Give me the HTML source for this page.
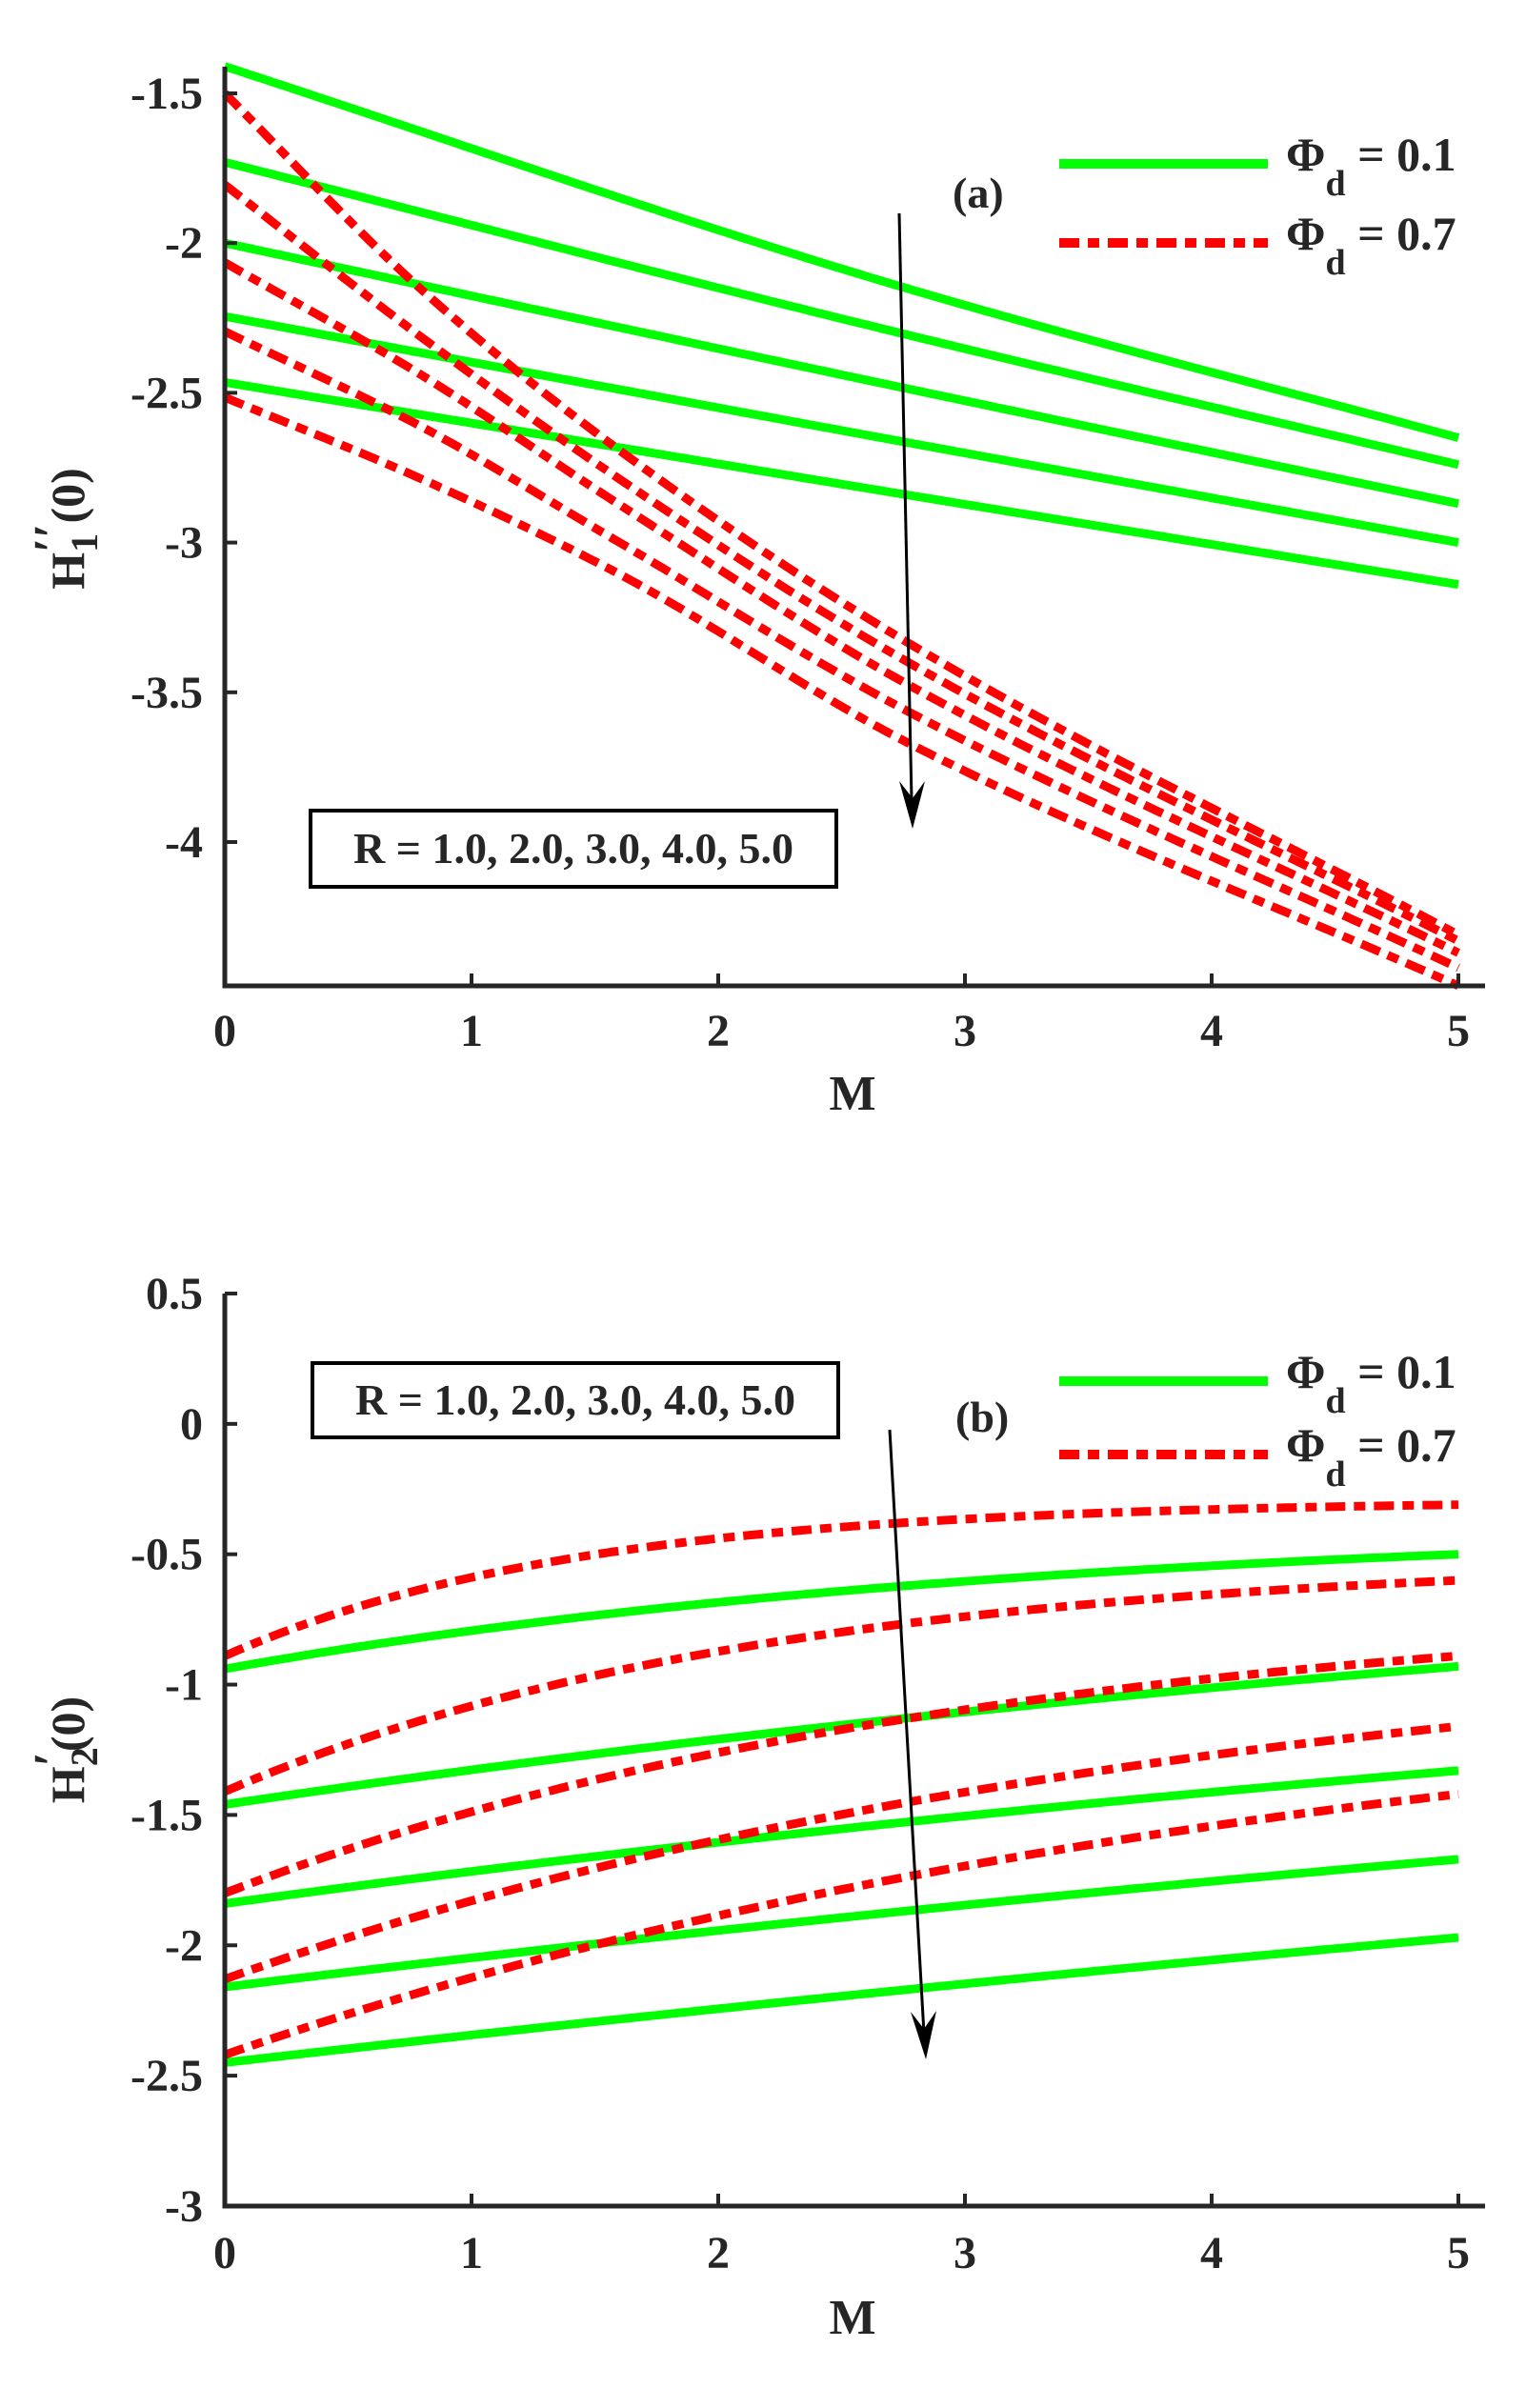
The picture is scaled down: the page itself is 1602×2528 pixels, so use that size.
<!DOCTYPE html>
<html><head><meta charset="utf-8"><style>
html,body{margin:0;padding:0;background:#fff;}
svg text{font-family:"Liberation Serif",serif;font-weight:bold;fill:#262626;}
</style></head><body>
<svg id="s" width="1602" height="2523" viewBox="0 0 1602 2523" xmlns="http://www.w3.org/2000/svg">
<rect width="1602" height="2523" fill="#fff"/>
<g id="p1"></g><g id="p2"></g>
<g stroke="#262626" stroke-width="5" fill="none">
<polyline points="236,70 236,1035 1559,1035"/>
<polyline points="236,1358 236,2316 1559,2316"/>
</g>
<g id="ticks" stroke="#262626" stroke-width="4"></g>
<g font-size="48" text-anchor="end" id="ylab"></g>
<g font-size="48" text-anchor="middle" id="xlab"></g>
<text x="895" y="1165" font-size="52" text-anchor="middle">M</text>
<text x="895" y="2450" font-size="52" text-anchor="middle">M</text>
<text transform="translate(88,555) rotate(-90)" font-size="50" text-anchor="middle">H<tspan dy="14" font-size="40">1</tspan><tspan dy="-30" dx="-20" font-size="54">′′</tspan><tspan dy="16">(0)</tspan></text>
<text transform="translate(88,1837) rotate(-90)" font-size="50" text-anchor="middle">H<tspan dy="14" font-size="40">2</tspan><tspan dy="-30" dx="-20" font-size="54">′</tspan><tspan dy="16">(0)</tspan></text>
<line x1="1112" y1="172" x2="1331" y2="172" stroke="#00ff00" stroke-width="10"/>
<line x1="1112" y1="255" x2="1331" y2="255" stroke="#ff0000" stroke-width="10" stroke-dasharray="21,9,12,9"/>
<text x="1350" y="179" font-size="50">Φ<tspan dy="26" font-size="38">d</tspan><tspan dy="-26"> = 0.1</tspan></text>
<text x="1350" y="262" font-size="50">Φ<tspan dy="26" font-size="38">d</tspan><tspan dy="-26"> = 0.7</tspan></text>
<line x1="1112" y1="1450" x2="1331" y2="1450" stroke="#00ff00" stroke-width="10"/>
<line x1="1112" y1="1527" x2="1331" y2="1527" stroke="#ff0000" stroke-width="10" stroke-dasharray="21,9,12,9"/>
<text x="1350" y="1457" font-size="50">Φ<tspan dy="26" font-size="38">d</tspan><tspan dy="-26"> = 0.1</tspan></text>
<text x="1350" y="1534" font-size="50">Φ<tspan dy="26" font-size="38">d</tspan><tspan dy="-26"> = 0.7</tspan></text>
<text x="1000" y="218" font-size="46">(a)</text>
<text x="1003" y="1503" font-size="46">(b)</text>
<rect x="326" y="851" width="552" height="80" fill="#fff" stroke="#000" stroke-width="4"/>
<text x="602" y="906" font-size="46" text-anchor="middle">R = 1.0, 2.0, 3.0, 4.0, 5.0</text>
<rect x="328" y="1431" width="552" height="78" fill="#fff" stroke="#000" stroke-width="4"/>
<text x="604" y="1485" font-size="46" text-anchor="middle">R = 1.0, 2.0, 3.0, 4.0, 5.0</text>
<line x1="944" y1="224" x2="957" y2="840" stroke="#000" stroke-width="3"/>
<path d="M958,870 L944,820 L958,838 L971,820 Z" fill="#000"/>
<line x1="934" y1="1501" x2="970" y2="2135" stroke="#000" stroke-width="3"/>
<path d="M972,2162 L956,2112 L970,2130 L983,2111 Z" fill="#000"/>
</svg>
<script>
var NS="http://www.w3.org/2000/svg";
function X(m){return 236+m*259;}
function Y1(v){return 98+(-1.5-v)*314.4;}
function Y2(v){return 1358+(0.5-v)*273.7;}
function mono(xs,ys){
 var n=xs.length,d=[],m=[];
 for(var i=0;i<n-1;i++)d.push((ys[i+1]-ys[i])/(xs[i+1]-xs[i]));
 m[0]=d[0];m[n-1]=d[n-2];
 for(i=1;i<n-1;i++){ if(d[i-1]*d[i]<=0)m[i]=0; else { var w1=2*(xs[i+1]-xs[i])+(xs[i]-xs[i-1]),w2=(xs[i+1]-xs[i])+2*(xs[i]-xs[i-1]); m[i]=(w1+w2)/(w1/d[i-1]+w2/d[i]); } }
 return function(x){
  var i=0;while(i<n-2&&x>xs[i+1])i++;
  var h=xs[i+1]-xs[i],t=(x-xs[i])/h,t2=t*t,t3=t2*t;
  return (2*t3-3*t2+1)*ys[i]+(t3-2*t2+t)*h*m[i]+(-2*t3+3*t2)*ys[i+1]+(t3-t2)*h*m[i+1];
 };
}
function draw(g,f,Y,red){
 var d="";
 for(var k=0;k<=200;k++){var m=k*0.025;d+=(k?"L":"M")+X(m).toFixed(1)+","+Y(f(m)).toFixed(1);}
 var p=document.createElementNS(NS,"path");p.setAttribute("d",d);p.setAttribute("fill","none");
 p.setAttribute("stroke",red?"#ff0000":"#00ff00");p.setAttribute("stroke-width","9");
 if(red)p.setAttribute("stroke-dasharray","21,9,12,9");
 document.getElementById(g).appendChild(p);
}
function expf(v0,v5,k){var den=1-Math.exp(-5*k);return function(m){return v0+(v5-v0)*(1-Math.exp(-k*m))/den;};}
// top panel
var gx=[0,2.76,5];
[[-1.41,-2.15,-2.65],[-1.73,-2.305,-2.74],[-2.0,-2.485,-2.87],[-2.245,-2.665,-3.0],[-2.465,-2.84,-3.14]].forEach(function(v){draw("p1",mono(gx,v),Y1,false);});
var rx=[0,0.79,1.58,2.76,5];
[[-1.5,-2.15,-2.68,-3.33,-4.31],[-1.805,-2.31,-2.777,-3.395,-4.33],[-2.065,-2.437,-2.863,-3.47,-4.37],[-2.295,-2.61,-2.99,-3.56,-4.42],[-2.515,-2.785,-3.097,-3.665,-4.48]].forEach(function(v){draw("p1",mono(rx,v),Y1,true);});
// bottom panel
[[-0.94,-0.50,0.3],[-1.46,-0.93,0.12],[-1.84,-1.33,0.1],[-2.16,-1.67,0.07],[-2.45,-1.97,0.05]].forEach(function(e){draw("p2",expf(e[0],e[1],e[2]),Y2,false);});
[[-0.89,-0.31,0.7],[-1.41,-0.60,0.45],[-1.80,-0.89,0.32],[-2.13,-1.16,0.25],[-2.42,-1.42,0.22]].forEach(function(e){draw("p2",expf(e[0],e[1],e[2]),Y2,true);});
var tk=document.getElementById("ticks"),yl=document.getElementById("ylab"),xl=document.getElementById("xlab");
function ln(x1,y1,x2,y2){var l=document.createElementNS(NS,"line");l.setAttribute("x1",x1);l.setAttribute("y1",y1);l.setAttribute("x2",x2);l.setAttribute("y2",y2);tk.appendChild(l);}
function tx(g,x,y,s){var t=document.createElementNS(NS,"text");t.setAttribute("x",x);t.setAttribute("y",y);t.textContent=s;g.appendChild(t);}
for(var m=0;m<=5;m++){var x=X(m);
 ln(x,1035,x,1022);ln(x,2316,x,2303);
 tx(xl,x,1098,String(m));tx(xl,x,2381,String(m));}
[-1.5,-2,-2.5,-3,-3.5,-4].forEach(function(v){var y=Y1(v);ln(236,y,249,y);tx(yl,213,y+16,String(v));});
[0.5,0,-0.5,-1,-1.5,-2,-2.5,-3].forEach(function(v){var y=Y2(v);ln(236,y,249,y);tx(yl,213,y+16,String(v));});
</script>
</body></html>
